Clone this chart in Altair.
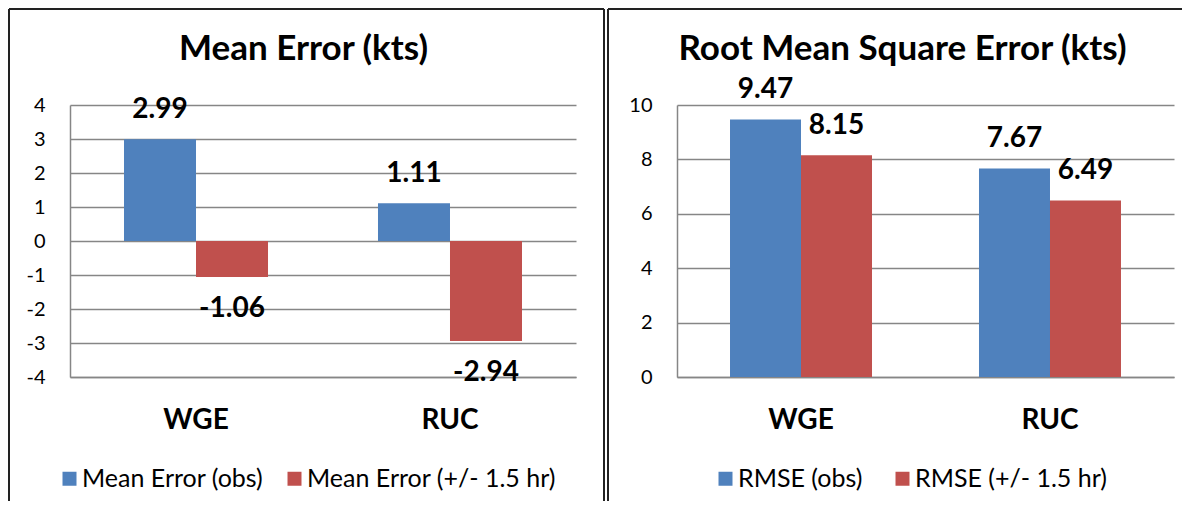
import altair as alt
import pandas as pd

# ---- data ----
categories = ["WGE", "RUC"]
me_series = ["Mean Error (obs)", "Mean Error (+/- 1.5 hr)"]
me_obs = [2.99, 1.11]
me_window = [-1.06, -2.94]
rmse_series = ["RMSE (obs)", "RMSE (+/- 1.5 hr)"]
rmse_obs = [9.47, 7.67]
rmse_window = [8.15, 6.49]
me_ticks = [-4, -3, -2, -1, 0, 1, 2, 3, 4]
rmse_ticks = [0, 2, 4, 6, 8, 10]
colors = ["#4F81BD", "#C0504D"]
titles = ["Mean Error (kts)", "Root Mean Square Error (kts)"]

FONT = "Lato"
GRID = "#868686"
EDGE = "#222222"


def frame(series, a, b):
    rows = []
    for i, c in enumerate(categories):
        for s, vals in zip(series, [a, b]):
            rows.append({"cat": c, "series": s, "value": vals[i],
                         "label": f"{vals[i]:.2f}"})
    return pd.DataFrame(rows)


def panel(df, series, ticks, title, width, pad_in, pad_out, title_x,
          legend_x, col_pad, left_edge, top_right, right_rule):
    x = alt.X("cat:N", sort=categories,
              scale=alt.Scale(paddingInner=pad_in, paddingOuter=pad_out),
              axis=alt.Axis(title=None, labelFont=FONT, labelFontSize=28,
                            labelFontWeight="bold", labelColor="black",
                            labelPadding=29, ticks=False, domainColor=GRID,
                            domainWidth=1.5, labelAngle=0, grid=False))
    xo = alt.XOffset("series:N", sort=series,
                     scale=alt.Scale(domain=series, paddingInner=0, paddingOuter=0))
    y = alt.Y("value:Q", scale=alt.Scale(domain=[ticks[0], ticks[-1]], nice=False),
              axis=alt.Axis(title=None, values=ticks, labelExpr="'' + datum.value",
                            labelFont=FONT, labelFontSize=20, labelColor="black",
                            labelPadding=25, ticks=False, grid=True,
                            gridColor=GRID, gridWidth=1.5,
                            domainColor=GRID, domainWidth=1.5))
    color = alt.Color("series:N", sort=series, title=None,
                      scale=alt.Scale(domain=series, range=colors),
                      legend=alt.Legend(orient="none", legendX=legend_x, legendY=361,
                                        direction="horizontal", symbolType="square",
                                        symbolSize=196, symbolStrokeWidth=0,
                                        labelFont=FONT, labelFontSize=25,
                                        labelColor="black", labelOffset=0,
                                        labelLimit=400, columnPadding=col_pad))
    base = alt.Chart(df)
    bars = base.mark_bar().encode(x=x, xOffset=xo, y=y, y2=alt.datum(0), color=color)
    text_style = dict(font=FONT, fontSize=28, fontWeight="bold", color="black",
                      baseline="middle")
    pos = base.transform_filter("datum.value >= 0").mark_text(dy=-29, **text_style).encode(
        x=x, xOffset=xo, y=y, text="label:N")
    layers = [bars, pos]
    if (df["value"] < 0).any():
        neg = base.transform_filter("datum.value < 0").mark_text(dy=32, **text_style).encode(
            x=x, xOffset=xo, y=y, text="label:N")
        layers.append(neg)

    edge = alt.Chart(alt.Data(values=[{"t": title}]))
    layers.append(edge.mark_text(font=FONT, fontSize=35, fontWeight="bold", color="black",
                                 align="center", baseline="alphabetic").encode(
        x=alt.value(title_x), y=alt.value(-45), text="t:N"))
    layers.append(edge.mark_rule(color=EDGE, strokeWidth=2).encode(
        x=alt.value(left_edge), x2=alt.value(top_right), y=alt.value(-96)))
    layers.append(edge.mark_rule(color=EDGE, strokeWidth=2).encode(
        x=alt.value(left_edge), y=alt.value(-96), y2=alt.value(396)))
    if right_rule:
        layers.append(edge.mark_rule(color=EDGE, strokeWidth=2).encode(
            x=alt.value(top_right), y=alt.value(-96), y2=alt.value(396)))

    return alt.layer(*layers).properties(width=width, height=272).resolve_scale(
        color="independent")


left = panel(frame(me_series, me_obs, me_window), me_series, me_ticks,
             titles[0], 506, 0.433, 0.2126, 233.5,
             -13, 18, -61, 534, True)
right = panel(frame(rmse_series, rmse_obs, rmse_window), rmse_series, rmse_ticks,
              titles[1], 497, 0.4297, 0.2129, 225.5,
              36, 27, -69, 505, False)

chart = alt.hconcat(left, right, spacing=2).resolve_scale(
    color="independent", xOffset="independent", x="independent", y="independent"
).resolve_legend(color="independent").properties(
    padding=0, background="white"
).configure_view(strokeWidth=0)

chart.save("out.html", embed_options={"renderer": "svg", "actions": False})
